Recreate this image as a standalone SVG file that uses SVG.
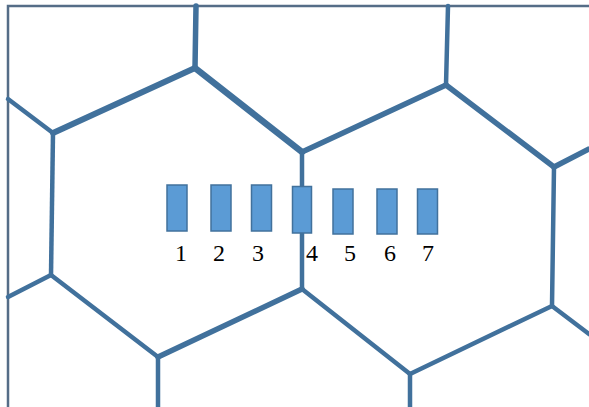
<svg xmlns="http://www.w3.org/2000/svg" width="589" height="407" viewBox="0 0 589 407">
<style>
.e{stroke:#41719C;stroke-linecap:round;stroke-linejoin:round;fill:none}
.r{fill:#5B9BD5;stroke:#41719C;stroke-width:1.5}
.t{font-family:"Liberation Serif",serif;font-size:24px;fill:#000;text-anchor:middle}
</style>
<rect width="589" height="407" fill="#fff"/>
<g id="frame" fill="none" stroke="#556D87" stroke-width="2.5">
<path d="M8,407 V6 H589"/>
</g>
<g id="edges" class="e">
<path d="M196,6 L195,68" stroke-width="5.5"/>
<path d="M195,68 L53,133" stroke-width="6"/>
<path d="M53,133 L8,99" stroke-width="4.5"/>
<path d="M53,133 L51,275" stroke-width="4.5"/>
<path d="M51,275 L8,297" stroke-width="4.5"/>
<path d="M51,275 L158,357" stroke-width="4.5"/>
<path d="M158,357 L158,407" stroke-width="4.5"/>
<path d="M195,68 L302,152" stroke-width="6.5"/>
<path d="M302,152 L302,289" stroke-width="4.5"/>
<path d="M302,289 L158,357" stroke-width="5.5"/>
<path d="M302,289 L410,374" stroke-width="4.5"/>
<path d="M410,374 L410,407" stroke-width="4.5"/>
<path d="M410,374 L552,306" stroke-width="4.5"/>
<path d="M552,306 L589,334" stroke-width="4.5"/>
<path d="M552,306 L554,167" stroke-width="4.5"/>
<path d="M554,167 L589,149" stroke-width="5.5"/>
<path d="M302,152 L446,85" stroke-width="5.5"/>
<path d="M446,85 L448,6" stroke-width="4.5"/>
<path d="M446,85 L554,167" stroke-width="5.5"/>
</g>
<g id="n1"><rect class="r" x="167" y="185" width="20" height="46"/><text class="t" x="181" y="261">1</text></g>
<g id="n2"><rect class="r" x="211" y="185" width="20" height="46"/><text class="t" x="219" y="261">2</text></g>
<g id="n3"><rect class="r" x="251.5" y="185" width="20" height="46"/><text class="t" x="258" y="261">3</text></g>
<g id="n4"><rect class="r" x="292.5" y="186.5" width="19" height="46.5"/><text class="t" x="312" y="261">4</text></g>
<g id="n5"><rect class="r" x="333" y="189" width="20" height="45"/><text class="t" x="350" y="261">5</text></g>
<g id="n6"><rect class="r" x="377" y="189" width="20" height="45"/><text class="t" x="390" y="261">6</text></g>
<g id="n7"><rect class="r" x="417.5" y="189" width="20" height="45"/><text class="t" x="428" y="261">7</text></g>
</svg>
